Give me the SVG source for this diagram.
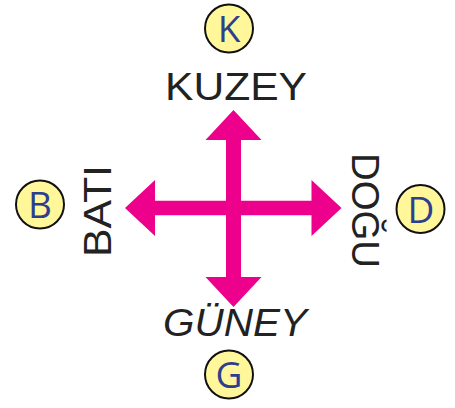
<svg xmlns="http://www.w3.org/2000/svg" width="455" height="408" viewBox="0 0 455 408">
<style>
.badge{fill:#fff799;stroke:#111;stroke-width:2}
.bl{font-family:"Open Sans","Liberation Sans",sans-serif;font-size:37px;fill:#2e3e8f;text-anchor:middle}
.lab{font-family:"Liberation Sans","DejaVu Sans",sans-serif;font-size:38px;fill:#222;text-anchor:middle}
.arr{fill:#ec008c}
</style>
<rect width="455" height="408" fill="#fff"/>
<g id="connectors">
<polygon class="arr" points="233.5,110 261.5,140 241,140 241,277 261.5,277 233.5,307 205.5,277 226,277 226,140 205.5,140"/>
<polygon class="arr" points="125,208 155,180 155,200.7 311.5,200.7 311.5,180 341.5,208 311.5,236 311.5,215.3 155,215.3 155,236"/>
</g>
<g id="node-K"><circle class="badge" cx="229" cy="28.5" r="24"/><text class="bl" x="229" y="42">K</text></g>
<g id="node-B"><circle class="badge" cx="40" cy="204.5" r="24"/><text class="bl" x="40" y="218">B</text></g>
<g id="node-D"><circle class="badge" cx="420.5" cy="209" r="24"/><text class="bl" x="421" y="222.5">D</text></g>
<g id="node-G"><circle class="badge" cx="229" cy="374.5" r="24"/><text class="bl" x="229" y="388">G</text></g>
<g id="label-kuzey"><text class="lab" x="236" y="100" textLength="142" lengthAdjust="spacingAndGlyphs">KUZEY</text></g>
<g id="label-guney"><text class="lab" x="235" y="336" textLength="144" lengthAdjust="spacingAndGlyphs" font-style="italic">GÜNEY</text></g>
<g id="label-bati"><text class="lab" transform="translate(111,211) rotate(-90)" x="0" y="0" textLength="92" lengthAdjust="spacingAndGlyphs">BATI</text></g>
<g id="label-dogu"><text class="lab" transform="translate(352,210.5) rotate(90)" x="0" y="0" textLength="115" lengthAdjust="spacingAndGlyphs">DOĞU</text></g>
</svg>
